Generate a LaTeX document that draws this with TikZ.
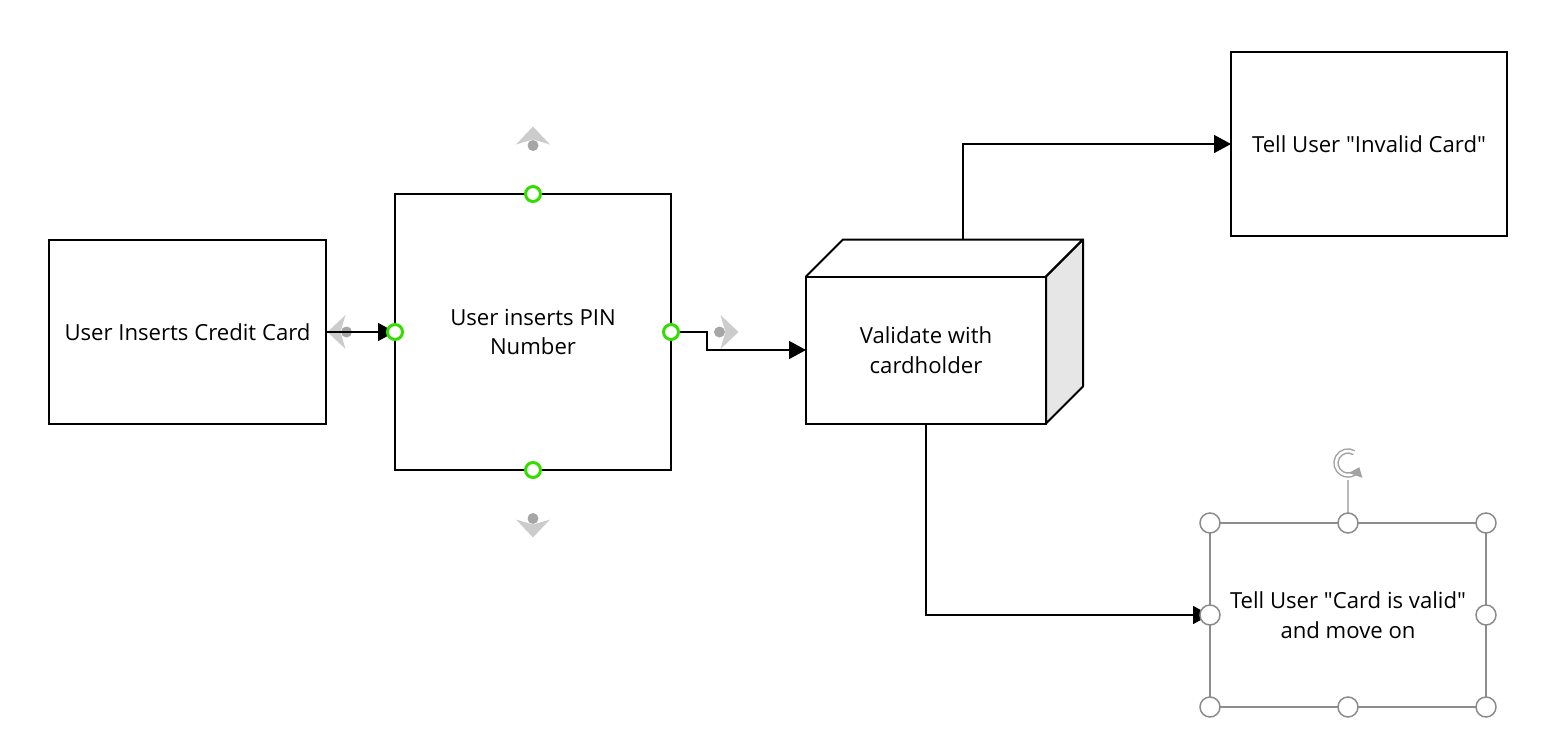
\documentclass[tikz,border=0pt]{standalone}
\usepackage{fontspec}
\setmainfont{Open Sans}[Ligatures=TeXOff]
\usetikzlibrary{positioning, arrows.meta}
\usetikzlibrary{calc}

\definecolor{handlegreen}{HTML}{33DD00}
\definecolor{gripgray}{HTML}{CCCCCC}
\definecolor{dotgray}{HTML}{A6A6A6}
\definecolor{selgray}{HTML}{8C8C8C}
\definecolor{sidegray}{HTML}{E6E6E6}

\tikzset{
  box/.style={draw, line width=0.04cm, outer sep=0pt, minimum width=5.52cm, minimum height=3.68cm,
    align=center, font=\fontsize{12.6}{17}\selectfont},
  link/.style={line width=0.03cm, -{Triangle[length=0.34cm, width=0.36cm]}},
  greenring/.style={circle, draw=handlegreen, fill=white, line width=0.06cm, minimum size=0.3cm, inner sep=0pt},
  selring/.style={circle, draw=selgray, fill=white, line width=0.03cm, minimum size=0.4cm, inner sep=0pt},
  grip/.pic={\fill[gripgray] (-0.34,0.02) -- (0,0.38) -- (0.34,0.02) -- (0,0.12) -- cycle;
    \fill[dotgray] (0,0) circle (0.11);}
}

\begin{document}
\begin{tikzpicture}[node distance=2cm, on grid]
        \useasboundingbox (-3.75,-8.24) rectangle (27.21,6.64);
        \node[box, minimum width=5.54cm] (card) {User Inserts Credit Card};
        \node[box, minimum size=5.52cm] (pin) [right=6.91cm of card] {User inserts PIN\\Number};
        \node[box, minimum width=4.8cm, minimum height=2.94cm] (check) [below right=0.36cm and 7.86cm of pin] {Validate with\\cardholder};
        \node[box] (invalid) [above right=4.12cm and 8.86cm of check] {Tell User "Invalid Card"};
        \node[box, draw=selgray] (valid) [below right=5.3cm and 8.44cm of check] {Tell User "Card is valid"\\and move on};

        % 3d faces of the check box
        \draw[line width=0.04cm, fill=sidegray, line join=round] (check.north east) -- ++(0.74,0.74) -- ++(0,-2.94) -- (check.south east) -- cycle;
        \draw[line width=0.04cm, line join=round] (check.north west) -- ++(0.74,0.74) -- ++(4.8,0) -- ++(-0.74,-0.74);

        % grips round the pin box
        \foreach \a/\r in {north/0, west/90, south/180, east/270}
            \pic[rotate=\r] at ($(pin.\a)+(\r+90:0.97)$) {grip};

        \draw[link] (card) -- (pin);
        \draw[link] (pin.east) -- ++(0.72,0) |- (check.west);
        \draw[link] ($(check.north)+(0.74,0.74)$) |- (invalid.west);
        \draw[link] (check.south) |- (valid.west);

        \foreach \a in {north, south, east, west}
            \node[greenring] at (pin.\a) {};

        % selection of the valid box
        \draw[selgray!60, line width=0.03cm] (valid.north) -- ++(0,0.86) coordinate (turn);
        \draw[selgray!80, double=white, double distance=0.05cm, line width=0.03cm, -{Triangle[length=0.18cm, width=0.26cm]}]
            ($(turn)+(0,0.34)+(60:0.24)$) arc[start angle=60, end angle=340, radius=0.24];
        \foreach \a in {north west, north, north east, east, south east, south, south west, west}
            \node[selring] at (valid.\a) {};
\end{tikzpicture}
\end{document}
